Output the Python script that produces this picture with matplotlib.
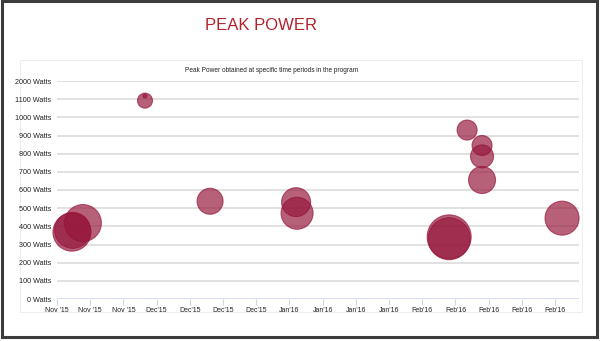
import matplotlib
matplotlib.use("Agg")
import matplotlib.pyplot as plt
from matplotlib.patches import Rectangle

# Bubble positions on the tick index scale, peak power in watts, bubble radius
x_pos = [0.45, 0.47, 0.78, 2.65, 2.65, 4.61, 7.20, 7.23, 11.81, 11.81,
         12.35, 12.80, 12.80, 12.80, 15.21]
power_w = [368, 378, 418, 1092, 1118, 538, 533, 472, 342, 332,
           930, 845, 785, 655, 445]
bubble_r = [19, 18, 18.5, 7.5, 2, 13, 14.5, 16, 22, 21,
            10, 10, 11.5, 13.5, 17]

x_labels = ["Nov '15", "Nov '15", "Nov '15", "Dec'15", "Dec'15", "Dec'15",
            "Dec'15", "Jan'16", "Jan'16", "Jan'16", "Jan'16", "Feb'16",
            "Feb'16", "Feb'16", "Feb'16", "Feb'16"]
y_ticks = [0, 100, 200, 300, 400, 500, 600, 700, 800, 900, 1000, 1100, 1200]
y_labels = ["0 Watts", "100 Watts", "200 Watts", "300 Watts", "400 Watts",
            "500 Watts", "600 Watts", "700 Watts", "800 Watts", "900 Watts",
            "1000 Watts", "1100 Watts", "2000 Watts"]

BUBBLE = "#96163a"
GRID = "#d9d9d9"
AXIS = "#ccd6eb"

plt.rcParams["font.family"] = ["Liberation Sans", "DejaVu Sans"]

fig = plt.figure(figsize=(6.01, 3.41), dpi=100)
fig.patch.set_facecolor("white")

# faint chart container (behind the axes) and the outer frame
fig.patches.append(Rectangle((20 / 601, 1 - 312 / 341), 562 / 601, 252 / 341,
                             transform=fig.transFigure, facecolor="none",
                             edgecolor="#eeeeee", lw=0.8, zorder=-1))
fig.patches.append(Rectangle((2 / 601, 4 / 341), 595 / 601, 336 / 341,
                             transform=fig.transFigure, fill=False,
                             edgecolor="#3c3c3c", lw=2.2, zorder=10))

ax = fig.add_axes([57 / 601, 1 - 299 / 341, 522 / 601, 218 / 341])
ax.set_facecolor("none")
for s in ax.spines.values():
    s.set_visible(False)

sizes = [(1.44 * r) ** 2 for r in bubble_r]
ax.scatter(x_pos, power_w, s=sizes, color=BUBBLE, alpha=0.68,
           edgecolors=BUBBLE, linewidths=0.8, zorder=3, clip_on=False)

ax.set_xlim(0, 15.72)
ax.set_ylim(0, 1200)
ax.set_yticks(y_ticks)
ax.set_yticklabels(y_labels)
ax.set_xticks(range(len(x_labels)))
ax.set_xticklabels(x_labels)
ax.tick_params(axis="y", length=0, pad=4, labelsize=5.2, labelcolor="#222222")
ax.tick_params(axis="x", length=4, width=0.8, color=AXIS, pad=2,
               labelsize=5.0, labelcolor="#222222")
for y in y_ticks[1:]:
    ax.axhline(y, color=GRID, lw=1.1, zorder=1)
ax.axhline(0, color=AXIS, lw=1.1, zorder=2)

fig.text(261 / 601, 1 - 26 / 341, "PEAK POWER", ha="center", va="center",
         fontsize=12, color="#b1242c")
fig.text(272 / 601, 1 - 70 / 341,
         "Peak Power obtained at specific time periods in the program",
         ha="center", va="center", fontsize=4.7, color="#222222")

fig.savefig("out.png", dpi=100)
